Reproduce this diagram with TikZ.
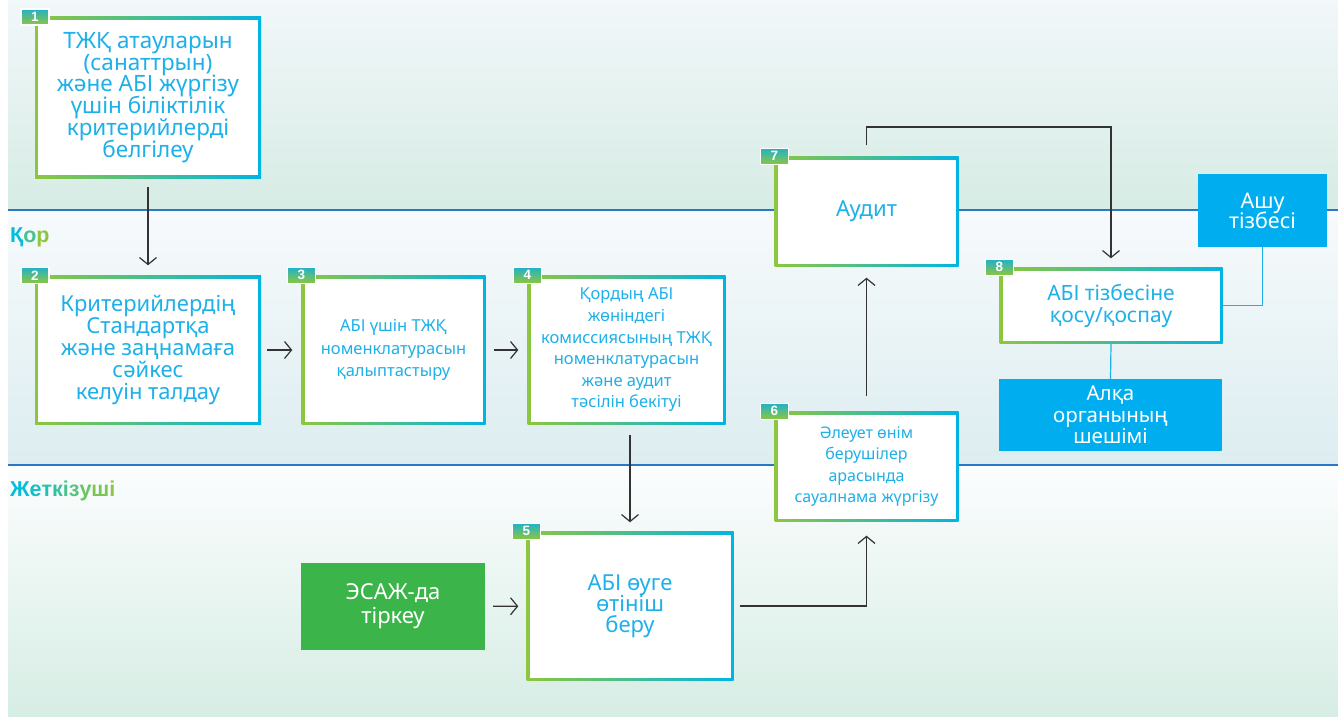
\documentclass[tikz,border=0pt]{standalone}
\usepackage{fontspec}
\setmainfont{Noto Sans}
\newfontfamily\boldsans{Liberation Sans}
\usetikzlibrary{arrows.meta}

\definecolor{kgreen}{RGB}{141,198,63}
\definecolor{kblue}{RGB}{0,181,226}
\definecolor{ktext}{RGB}{30,176,232}
\definecolor{kfill}{RGB}{0,174,239}
\definecolor{kleaf}{RGB}{59,181,74}
\definecolor{kteal}{RGB}{32,178,200}
\definecolor{kline}{RGB}{40,120,196}
\definecolor{karrow}{RGB}{51,51,51}
\definecolor{klabel}{RGB}{0,190,220}

\tikzset{
  stepbox/.style={rectangle, inner sep=0pt, left color=kgreen, right color=kblue, text=ktext, align=center,
    path picture={\fill[white] ([xshift=3pt,yshift=-3pt]path picture bounding box.north west) rectangle ([xshift=-3pt,yshift=3pt]path picture bounding box.south east);}},
  badge/.style={rectangle, inner sep=0pt, minimum width=28pt, minimum height=16pt, top color=kteal, bottom color=kgreen, draw=white, line width=1.5pt, text=white, font=\boldsans\fontsize{13.5}{13.5}\selectfont\bfseries},
  solidbox/.style={rectangle, inner sep=0pt, text=white, align=center},
  lane/.style={anchor=west, inner sep=0pt, font=\boldsans\fontsize{21.5}{21.5}\selectfont\bfseries},
  flow/.style={draw=karrow, line width=1.2pt, -{Straight Barb[length=7pt,width=17pt]}},
  link/.style={draw=ktext, line width=1.2pt},
}

\begin{document}
\lineskiplimit=-100pt
\begin{tikzpicture}[x=1pt, y=-1pt]

\useasboundingbox (0,0) rectangle (1338,717);

% lanes
\shade[top color={rgb,255:red,242;green,247;blue,250}, bottom color={rgb,255:red,214;green,236;blue,228}] (8,0) rectangle (1338,210);
\shade[top color={rgb,255:red,247;green,250;blue,252}, bottom color={rgb,255:red,220;green,237;blue,240}] (8,210) rectangle (1338,465);
\shade[top color={rgb,255:red,252;green,253;blue,254}, bottom color={rgb,255:red,214;green,237;blue,228}] (8,465) rectangle (1338,717);
\draw[kline, line width=1.3pt] (8,210) -- (1338,210);
\draw[kline, line width=1.3pt] (8,465) -- (1338,465);

\node[lane] (lfund) at (10,237) {\textcolor{klabel}{Қ}\textcolor{klabel!50!kgreen}{о}\textcolor{kgreen}{р}};
\node[lane] (lsupp) at (10,491) {\textcolor{klabel}{Ж}\textcolor{klabel!88!kgreen}{е}\textcolor{klabel!75!kgreen}{т}\textcolor{klabel!63!kgreen}{к}\textcolor{klabel!50!kgreen}{і}\textcolor{klabel!38!kgreen}{з}\textcolor{klabel!25!kgreen}{у}\textcolor{klabel!13!kgreen}{ш}\textcolor{kgreen}{і}};

% steps
\node[stepbox, minimum width=226pt, minimum height=161pt, font=\fontsize{22.5}{21.7}\selectfont] (s1) at (148,97.5)
  {ТЖҚ атауларын\\(санаттрын)\\және АБІ жүргізу\\үшін біліктілік\\критерийлерді\\белгілеу};
\node[stepbox, minimum width=226pt, minimum height=149pt, font=\fontsize{22}{22}\selectfont] (s2) at (148,350)
  {Критерийлердің\\Стандартқа\\және заңнамаға\\сәйкес\\келуін талдау};
\node[stepbox, minimum width=184pt, minimum height=149pt, font=\fontsize{16.5}{22.5}\selectfont] (s3) at (393.5,350)
  {АБІ үшін ТЖҚ\\номенклатурасын\\қалыптастыру};
\node[stepbox, minimum width=198pt, minimum height=149pt, font=\fontsize{16.5}{21.6}\selectfont] (s4) at (626.5,350)
  {Қордың АБІ\\жөніндегі\\комиссиясының ТЖҚ\\номенклатурасын\\және аудит\\тәсілін бекітуі};
\node[stepbox, minimum width=207pt, minimum height=149pt, font=\fontsize{22}{21}\selectfont] (s5) at (630,606)
  {АБІ өуге\\өтініш\\беру};
\node[stepbox, minimum width=184pt, minimum height=110pt, font=\fontsize{16}{21.3}\selectfont] (s6) at (866.5,466.5)
  {Әлеует өнім\\берушілер\\арасында\\сауалнама жүргізу};
\node[stepbox, minimum width=184pt, minimum height=110pt, font=\fontsize{22}{22}\selectfont] (s7) at (866.5,211.5)
  {Аудит};
\node[stepbox, minimum width=223pt, minimum height=76pt, font=\fontsize{21}{22}\selectfont] (s8) at (1111,305.5)
  {АБІ тізбесіне\\қосу/қоспау};

\foreach \n in {1,...,8}
  \node[badge] (b\n) at (s\n.north west) {\n};

% side boxes
\node[solidbox, fill=kfill, minimum width=129pt, minimum height=73pt, font=\fontsize{21.5}{20}\selectfont] (ashu) at (1262.5,210.5)
  {Ашу\\тізбесі};
\node[solidbox, fill=kfill, minimum width=223pt, minimum height=72pt, font=\fontsize{20.5}{21.5}\selectfont] (alka) at (1110.5,415)
  {Алқа\\органының\\шешімі};
\node[solidbox, fill=kleaf, minimum width=184pt, minimum height=87pt, font=\fontsize{22}{24}\selectfont] (esazh) at (393,606.5)
  {ЭСАЖ-да\\тіркеу};

\coordinate (auditTop) at (866.5,127);

% connectors
\draw[flow, shorten <=9pt, shorten >=10pt] (s1) -- (s2);
\draw[flow, shorten <=6pt, shorten >=9pt] (s2) -- (s3);
\draw[flow, shorten <=8pt, shorten >=9pt] (s3) -- (s4);
\draw[flow, shorten <=10pt, shorten >=9pt] (s5.north |- s4.south) -- (s5.north);
\draw[flow, shorten <=8pt, shorten >=8pt] (esazh) -- (s5);
\draw[flow, shorten <=6pt, shorten >=14pt] (s5) -| (s6);
\draw[flow, shorten <=15pt, shorten >=11pt] (s6) -- (s7);
\draw[flow, shorten <=11pt, shorten >=9pt] (s7.north) -- (auditTop) -| (s8.north);

\draw[link] (ashu.south) |- (s8.east);
\draw[link] (s8.south) -- (alka.north);

\end{tikzpicture}
\end{document}
